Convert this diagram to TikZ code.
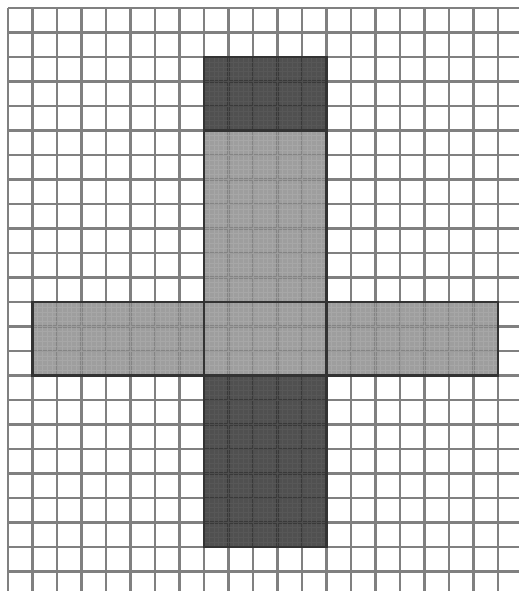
\documentclass[tikz,border=0pt]{standalone}
\usepackage{xcolor}
\definecolor{gridline}{HTML}{808080}
\definecolor{lightface}{HTML}{868686}
\definecolor{darkface}{HTML}{2A2A2A}
\definecolor{lighttex}{HTML}{ADADAD}
\definecolor{darktex}{HTML}{5C5C5C}
\definecolor{edgecol}{HTML}{333333}

\begin{document}
\begin{tikzpicture}[x=0.5cm, y=-0.5cm,
    gridlines/.style={gridline, line width=1.3pt},
    lightpart/.style={fill=lightface, fill opacity=0.8},
    darkpart/.style={fill=darkface, fill opacity=0.82},
    texture/.style={draw=#1, line width=0.3pt, opacity=0.6},
    outline/.style={draw=edgecol, line width=1.5pt}]
  \useasboundingbox (-0.327,-0.327) rectangle (20.86,23.8);

  % background grid
  \foreach \i in {0,...,20}
    \draw[gridlines] (\i,0) -- (\i,23.8);
  \foreach \j in {0,...,23}
    \draw[gridlines] (0,\j) -- (20.86,\j);

  % faces of the net
  \fill[darkpart] (8,2) rectangle (13,5);
  \fill[lightpart] (8,5) rectangle (13,12);
  \fill[lightpart] (1,12) rectangle (20,15);
  \fill[darkpart] (8,15) rectangle (13,22);

  % fine texture
  \draw[texture=lighttex] (8,5) grid[step=1mm] (13,12);
  \draw[texture=lighttex] (1,12) grid[step=1mm] (20,15);
  \draw[texture=darktex] (8,2) grid[step=1mm] (13,5);
  \draw[texture=darktex] (8,15) grid[step=1mm] (13,22);

  % outlines
  \draw[outline] (8,2) rectangle (13,5);
  \draw[outline] (8,5) rectangle (13,12);
  \draw[outline] (1,12) rectangle (20,15);
  \draw[outline] (8,12) rectangle (13,15);
  \draw[outline] (8,15) rectangle (13,22);
\end{tikzpicture}
\end{document}
